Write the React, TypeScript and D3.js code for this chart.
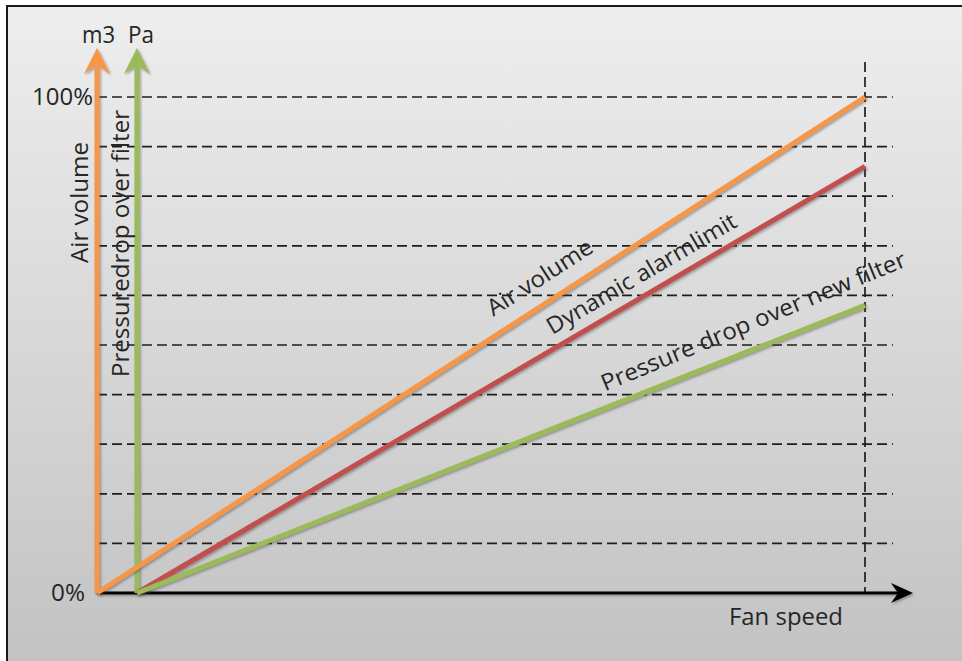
import React from "react";
import * as d3 from "d3";

// ---- data ----
const gridTicks = [0, 10, 20, 30, 40, 50, 60, 70, 80, 90, 100];
const tickLabels = [
  { value: 100, label: "100%", right: 93, len: 61 },
  { value: 0, label: "0%", right: 85, len: 34 },
];
const airVolumeX = [0, 100];
const airVolumeY = [0, 100];
const alarmX = [5.2, 100];
const alarmY = [0, 86];
const pressureX = [5.2, 100];
const pressureY = [0, 58];
const pressureAxisX = 5.2;

const seriesNames = ["Air volume", "Dynamic alarmlimit", "Pressure drop over new filter"];

const W = 962;
const H = 661;
const FONT = "'Open Sans', 'Noto Sans', sans-serif";
const TXT = "#262626";
const FS = 23;

const x = d3.scaleLinear().domain([0, 100]).range([97, 865]);
const y = d3.scaleLinear().domain([0, 100]).range([593, 97]);

const mk = (xs: number[], ys: number[]) => xs.map((v, i) => [v, ys[i]] as [number, number]);
const lineGen = d3
  .line<[number, number]>()
  .x((d) => x(d[0]))
  .y((d) => y(d[1]));

const series = [
  { name: seriesNames[0], pts: mk(airVolumeX, airVolumeY), color: "#f79646", at: 52.8, off: 17, len: 121, rot: 0 },
  { name: seriesNames[1], pts: mk(alarmX, alarmY), color: "#c0504d", at: 60.1, off: 12.6, len: 216, rot: 0 },
  { name: seriesNames[2], pts: mk(pressureX, pressureY), color: "#9bbb59", at: 66.9, off: 15.4, len: 328, rot: -1 },
];

function upArrowHead(cx: number, tipY: number) {
  return `M${cx},${tipY} L${cx + 13},${tipY + 26} L${cx},${tipY + 17} L${cx - 13},${tipY + 26} Z`;
}

export default function App() {
  const x0 = x(0);
  const y0 = y(0);
  const xEnd = x(100);
  const xp = x(pressureAxisX);
  const tipY = 48;
  const axisTipX = 913;

  return (
    <svg
      width={W}
      height={H}
      style={{ position: "absolute", left: 0, top: 0, display: "block" }}
      fontFamily={FONT}
    >
      <defs>
        <linearGradient id="bg" x1="0" y1="0" x2="0" y2="1">
          <stop offset="0%" stopColor="#eeeeee" />
          <stop offset="100%" stopColor="#c1c1c1" />
        </linearGradient>
        <filter id="sh" x="-20%" y="-20%" width="140%" height="140%">
          <feDropShadow dx="1.5" dy="1.5" stdDeviation="1" floodColor="#404040" floodOpacity="0.45" />
        </filter>
      </defs>
      <rect x={0} y={0} width={W} height={H} fill="#ffffff" />
      <rect x={7} y={6} width={W + 20} height={H + 20} fill="url(#bg)" stroke="#1a1a1a" strokeWidth={2} />

      {/* horizontal dashed grid */}
      {gridTicks
        .filter((t) => t > 0)
        .map((t) => (
          <line
            key={t}
            x1={x0}
            x2={xEnd + 28}
            y1={y(t)}
            y2={y(t)}
            stroke="#1e1e1e"
            strokeWidth={1.7}
            strokeDasharray="10,5"
          />
        ))}
      {/* vertical dashed line at 100% fan speed */}
      <line x1={xEnd} x2={xEnd} y1={62} y2={y0} stroke="#1e1e1e" strokeWidth={1.7} strokeDasharray="10,5" />

      {/* x axis */}
      <g filter="url(#sh)">
        <line x1={x0} x2={axisTipX - 10} y1={y0} y2={y0} stroke="#000" strokeWidth={3} />
        <path
          d={`M${axisTipX},${y0} L${axisTipX - 22},${y0 - 10} L${axisTipX - 15},${y0} L${axisTipX - 22},${y0 + 10} Z`}
          fill="#000"
        />
      </g>

      {/* vertical axes arrows */}
      <g filter="url(#sh)">
        <line x1={x0} x2={x0} y1={y0} y2={tipY + 18} stroke="#f79646" strokeWidth={5} />
        <path d={upArrowHead(x0, tipY)} fill="#f79646" />
        <line x1={xp} x2={xp} y1={y0} y2={tipY + 18} stroke="#9bbb59" strokeWidth={5} />
        <path d={upArrowHead(xp, tipY)} fill="#9bbb59" />
      </g>

      {/* series lines */}
      {series.map((s) => (
        <path
          key={s.name}
          d={lineGen(s.pts) || ""}
          fill="none"
          stroke={s.color}
          strokeWidth={5}
          strokeLinecap="butt"
          filter="url(#sh)"
        />
      ))}

      {/* series labels along lines */}
      {series.map((s) => {
        const [p0, p1] = s.pts;
        const ang = (Math.atan2(y(p1[1]) - y(p0[1]), x(p1[0]) - x(p0[0])) * 180) / Math.PI + s.rot;
        const t = (s.at - p0[0]) / (p1[0] - p0[0]);
        const ax = x(s.at);
        const ay = y(p0[1] + t * (p1[1] - p0[1]));
        return (
          <text
            key={s.name + "-lbl"}
            transform={`translate(${ax},${ay}) rotate(${ang})`}
            y={-s.off}
            fontSize={FS}
            fill={TXT}
            textLength={s.len}
            lengthAdjust="spacingAndGlyphs"
          >
            {s.name}
          </text>
        );
      })}

      {/* axis unit labels */}
      <text x={82} y={43} fontSize={FS} fill={TXT} textLength={33} lengthAdjust="spacingAndGlyphs">
        m3
      </text>
      <text x={128} y={43} fontSize={FS} fill={TXT} textLength={26} lengthAdjust="spacingAndGlyphs">
        Pa
      </text>

      {/* tick labels */}
      {tickLabels.map((t) => (
        <text
          key={t.label}
          x={t.right - t.len}
          y={y(t.value) + 8}
          fontSize={FS}
          fill={TXT}
          textLength={t.len}
          lengthAdjust="spacingAndGlyphs"
        >
          {t.label}
        </text>
      ))}

      {/* axis titles */}
      <text
        transform="translate(88,202.5) rotate(-90)"
        textAnchor="middle"
        fontSize={FS}
        fill={TXT}
        textLength={121}
        lengthAdjust="spacingAndGlyphs"
      >
        Air volume
      </text>
      <text
        transform="translate(129,243.5) rotate(-90)"
        textAnchor="middle"
        fontSize={FS}
        fill={TXT}
        textLength={267}
        lengthAdjust="spacingAndGlyphs"
      >
        Pressuredrop over filter
      </text>
      <text x={729} y={625} fontSize={FS} fill={TXT} textLength={114} lengthAdjust="spacingAndGlyphs">
        Fan speed
      </text>
    </svg>
  );
}
